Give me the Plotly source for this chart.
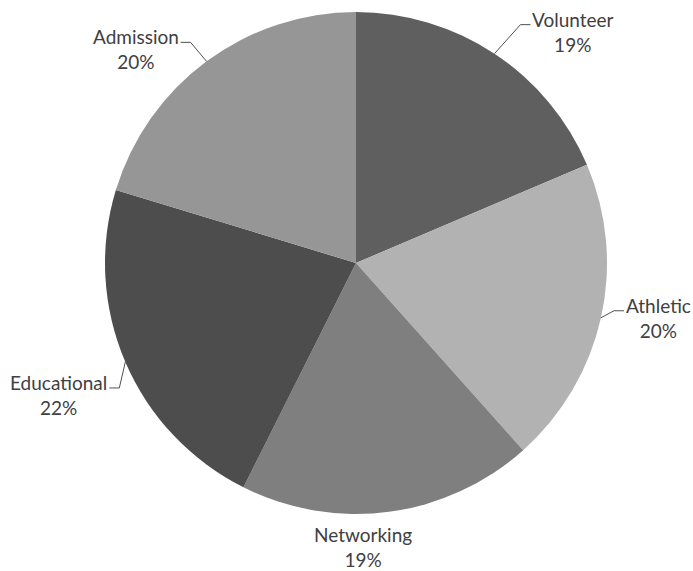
import math
import plotly.graph_objects as go

# ---- data ----
labels = ["Volunteer", "Athletic", "Networking", "Educational", "Admission"]
values = [18.6, 19.8, 19.0, 22.3, 20.3]
colors = ["#5f5f5f", "#b2b2b2", "#7f7f7f", "#4d4d4d", "#969696"]

# leader-line end (pixels from the slice's rim midpoint); None = no leader line
leader_dx = [36, 23, None, -16, -26]
leader_dy = [-29, -7, None, 26, -19]
# label centre offset for labels without a leader line
free_dx = [0, 0, -26, 0, 0]
free_dy = [0, 0, 35, 0, 0]

W, H = 693, 571
cx, cy, R = 356, 263, 251
ELBOW = 10
GAP = 1

fig = go.Figure(go.Pie(
    labels=labels,
    values=values,
    sort=False,
    direction="clockwise",
    rotation=0,
    marker=dict(colors=colors, line=dict(width=0)),
    textinfo="none",
    hoverinfo="label+percent",
    showlegend=False,
    domain=dict(x=[(cx - R) / W, (cx + R) / W], y=[1 - (cy + R) / H, 1 - (cy - R) / H]),
))


def px2paper(x, y):
    return x / W, 1 - y / H


FONT = dict(family="Lato, Carlito, sans-serif", size=19, color="#404040")
total = sum(values)
cum = 0.0
annotations = []
shapes = []
for i, (lab, v) in enumerate(zip(labels, values)):
    mid = (cum + v / 2) / total * 2 * math.pi
    cum += v
    px = cx + R * math.sin(mid)
    py = cy - R * math.cos(mid)
    pct = round(v / total * 100)
    txt = f"{lab}<br>{pct}%"
    if leader_dx[i] is not None:
        ex, ey = px + leader_dx[i], py + leader_dy[i]
        side = 1 if leader_dx[i] > 0 else -1
        bx = ex - side * ELBOW
        p0 = px2paper(px, py)
        p1 = px2paper(bx, ey)
        p2 = px2paper(ex, ey)
        shapes.append(dict(
            type="path", xref="paper", yref="paper",
            path=f"M {p0[0]} {p0[1]} L {p1[0]} {p1[1]} L {p2[0]} {p2[1]}",
            line=dict(color="#505050", width=1),
        ))
        lx, ly = px2paper(ex + side * GAP, ey + 7)
        annotations.append(dict(
            x=lx, y=ly, xref="paper", yref="paper", text=txt, showarrow=False,
            xanchor="left" if side > 0 else "right", yanchor="middle",
            font=FONT, align="center", borderpad=0,
        ))
    else:
        lx, ly = px2paper(px + free_dx[i], py + free_dy[i])
        annotations.append(dict(
            x=lx, y=ly, xref="paper", yref="paper", text=txt, showarrow=False,
            xanchor="center", yanchor="middle", font=FONT, align="center",
            borderpad=0,
        ))

fig.update_layout(
    width=W, height=H,
    margin=dict(l=0, r=0, t=0, b=0),
    paper_bgcolor="white",
    plot_bgcolor="white",
    annotations=annotations,
    shapes=shapes,
)

fig.write_html(
    "out.html",
    config={"displayModeBar": False},
    post_script="document.body.style.margin='0';document.body.style.overflow='hidden';",
)
